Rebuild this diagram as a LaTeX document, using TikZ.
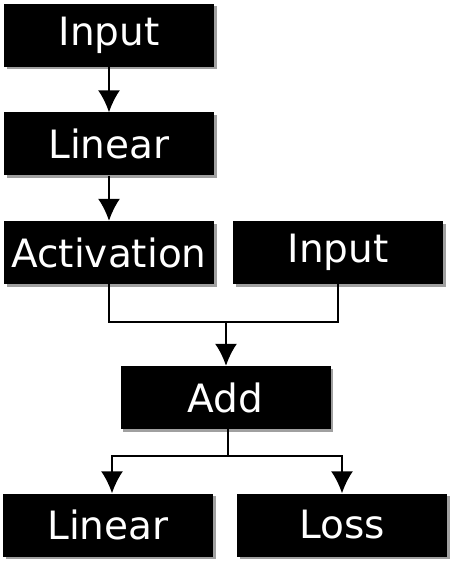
\documentclass[tikz,border=0pt]{standalone}
\usepackage{fontspec}
\setmainfont{DejaVu Sans}
\usetikzlibrary{arrows.meta,shadows}

\tikzset{
  blk/.style={fill=black,text=white,minimum width=210pt,minimum height=63pt,
    inner sep=0pt,font=\fontsize{39}{42}\selectfont,
    drop shadow={shadow xshift=2.5pt,shadow yshift=-2.5pt,fill=black!50,opacity=0.75}},
  wire/.style={line width=1.8pt},
  conn/.style={wire,-{Latex[length=22pt,width=22pt]}}
}

\begin{document}
\begin{tikzpicture}[x=1pt,y=-1pt]
\useasboundingbox (0,0) rectangle (453,561);
% blocks
\node[blk] (inA) at (109,35.5) {Input};
\node[blk] (linA) at (109,144) {Linear};
\node[blk] (act) at (109,252.5) {Activation};
\node[blk] (inB) at (338,252.5) {Input};
\node[blk] (add) at (225.5,397.5) {Add};
\node[blk] (linB) at (108,525) {Linear};
\node[blk] (loss) at (342,525) {Loss};
% joints
\coordinate (merge) at (226,322);
\coordinate (split) at (228,456);
% connectors
\draw[conn] (inA) -- (linA);
\draw[conn] (linA) -- (act);
\draw[wire] (act.south) |- (merge) -| (inB.south);
\draw[conn] (merge) -- (merge |- add.north);
\draw[wire] (split |- add.south) -- (split);
\draw[conn] (split) -| ([xshift=4pt]linB.north);
\draw[conn] (split) -| (loss.north);
\end{tikzpicture}
\end{document}
